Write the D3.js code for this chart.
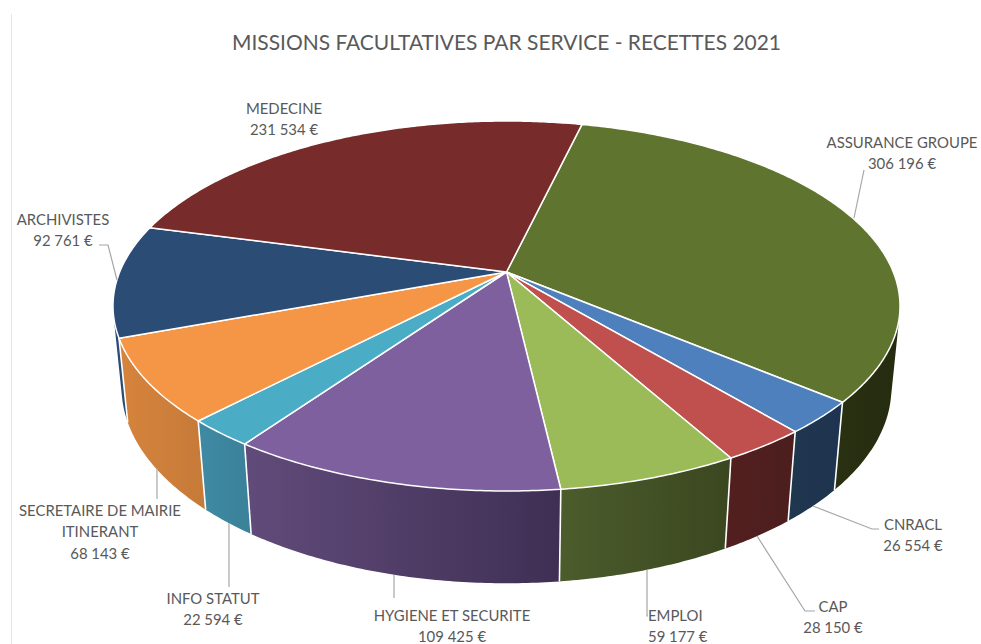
<!DOCTYPE html>
<html>
<head>
<meta charset="utf-8">
<style>
html,body{margin:0;padding:0;background:#fff;}
svg{display:block;}
text{font-family:Lato,"Open Sans",sans-serif;fill:#595959;}
</style>
<script src="https://cdn.jsdelivr.net/npm/d3@7/dist/d3.min.js"></script>
</head>
<body>
<script>
const titleText = "MISSIONS FACULTATIVES PAR SERVICE - RECETTES 2021";
const categories = ["ASSURANCE GROUPE","CNRACL","CAP","EMPLOI","HYGIENE ET SECURITE","INFO STATUT","SECRETAIRE DE MAIRIE|ITINERANT","ARCHIVISTES","MEDECINE"];
const values = [306196,26554,28150,59177,109425,22594,68143,92761,231534];
const topColors = ["#5f752f","#4d80bc","#c0504d","#9bbb59","#7f609f","#4bacc6","#f59647","#2b4c74","#772b2a"];
const sideFrom = ["#2a3112","#20374f","#531f1f","#4c5c2c","#614b7a","#3f8aa3","#d6843d","#2b4c74","#5f2220"];
const sideTo   = ["#252b0f","#1e3350","#4c1e1e","#3b4720","#3f2f54","#3a8199","#c67a38","#2b4c74","#5f2220"];

// label layout: [text anchor x, anchor, first baseline y]
const labelX = [902,913,833,648,452,213,100,63,284];
const labelAnchor = ["middle","middle","middle","start","middle","middle","middle","middle","middle"];
const labelY = [148,530,612,621,621,604,516,225,114];
const leaderLines = [
 [[864,170],[854,218]],
 [[813,506],[872,529],[879,529]],
 [[757,536],[805,611],[815,611]],
 [[647,570],[647,616],[648,616]],
 [[394,575],[394,598]],
 [[229,523],[229,587]],
 [[157,468],[157,499]],
 [[99,245],[108,245],[117,280]],
 []
];

const W=981,H=644;
const rotation = 13.3*Math.PI/180;
// perspective projection of the pie disc
const cx=506.5, cy=272, ax=386.8, by=178.75, k=0.1838, m=0.0215, drop=82;
function project(t,z){
  const X=Math.sin(t),Y=-Math.cos(t),w=1-k*Y+m*z;
  return [cx+ax*X/w, cy+(by*Y+drop*z)/w];
}
const locale=d3.formatLocale({decimal:",",thousands:"\u00a0",grouping:[3],currency:[""," €"]});
const fmt=locale.format(",d");

const svg=d3.select("body").append("svg").attr("width",W).attr("height",H);
const defs=svg.append("defs");
const line=d3.line();
const pie=d3.pie().sort(null).startAngle(rotation).endAngle(rotation+2*Math.PI);
const arcs=pie(values);
const sample=(a,b)=>{const n=Math.max(4,Math.ceil((b-a)/0.01));return d3.range(n+1).map(i=>a+(b-a)*i/n);};
// a wall quad faces the viewer when its signed area has the front's sign
function faces(t0,t1){
  return d3.polygonArea([project(t0,0),project(t1,0),project(t1,1),project(t0,1)])>0;
}
const frontSign=faces(Math.PI-0.01,Math.PI+0.01);

svg.append("line").attr("x1",11.5).attr("x2",11.5).attr("y1",14).attr("y2",H).attr("stroke","#e6e6e6").attr("stroke-width",1);

svg.append("text").attr("x",506.5).attr("y",49.5).attr("text-anchor","middle")
  .attr("font-size",21.5).attr("textLength",549).attr("lengthAdjust","spacingAndGlyphs").text(titleText);

// side walls: only the run of the arc that faces the viewer
arcs.forEach((d,i)=>{
  const ts=sample(d.startAngle,d.endAngle);
  const vis=ts.filter((t,j)=>(j<ts.length-1&&faces(t,ts[j+1])===frontSign)||(j>0&&faces(ts[j-1],t)===frontSign));
  if(vis.length<2) return;
  const up=vis.map(t=>project(t,0)),lo=vis.map(t=>project(t,1)).reverse();
  const xs=up.concat(lo).map(p=>p[0]);
  const g=defs.append("linearGradient").attr("id","s"+i).attr("gradientUnits","userSpaceOnUse")
    .attr("x1",d3.min(xs)).attr("x2",d3.max(xs)).attr("y1",0).attr("y2",0);
  g.append("stop").attr("offset",0).attr("stop-color",sideFrom[i]);
  g.append("stop").attr("offset",1).attr("stop-color",sideTo[i]);
  svg.append("path").attr("d",line(up.concat(lo))+"Z").attr("fill",`url(#s${i})`);
});
arcs.forEach(d=>{
  svg.append("path").attr("d",line([project(d.startAngle,0),project(d.startAngle,1)]))
    .attr("stroke","#fff").attr("stroke-width",1.6).attr("fill","none");
});

// top face
arcs.forEach((d,i)=>{
  const pts=[[cx,cy]].concat(sample(d.startAngle,d.endAngle).map(t=>project(t,0)));
  svg.append("path").attr("d",line(pts)+"Z").attr("fill",topColors[i])
    .attr("stroke","#fff").attr("stroke-width",1.5).attr("stroke-linejoin","round");
});

// leaders
leaderLines.forEach(l=>{
  if(l.length) svg.append("path").attr("d",line(l)).attr("fill","none").attr("stroke","#a6a6a6").attr("stroke-width",1.2);
});

// labels
categories.forEach((c,i)=>{
  const lines=c.split("|").concat([fmt(values[i])+" €"]);
  const t=svg.append("text").attr("font-size",14.9).attr("text-anchor",labelAnchor[i]);
  lines.forEach((s,j)=>t.append("tspan").attr("x",labelX[i]).attr("y",labelY[i]+j*21.3).text(s));
});
</script>
</body>
</html>
